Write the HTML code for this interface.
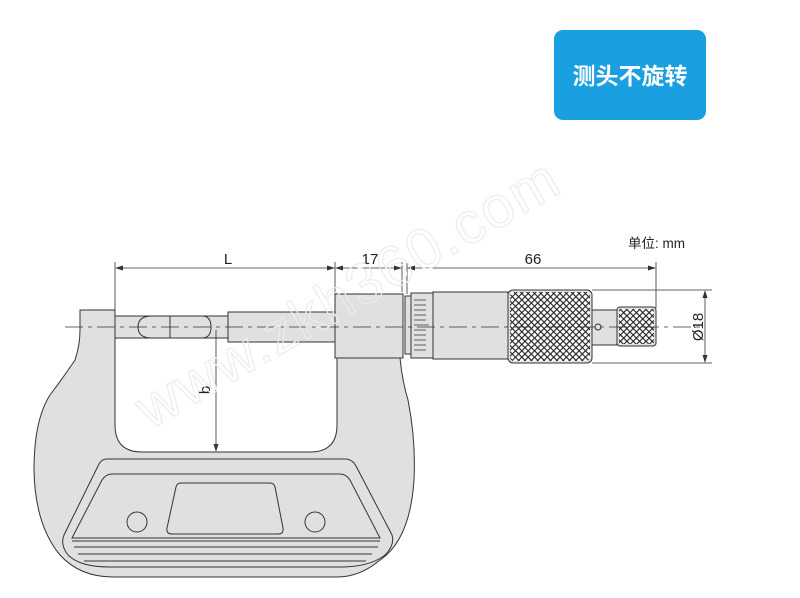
<!DOCTYPE html>
<html><head><meta charset="utf-8"><style>
html,body{margin:0;padding:0;background:#fff;}
svg{display:block;}
</style></head><body>
<svg width="800" height="598" viewBox="0 0 800 598" xmlns="http://www.w3.org/2000/svg" font-family="Liberation Sans, Arial, sans-serif">
<rect x="554" y="30" width="152" height="90" rx="9" fill="#1a9fe0"/>
<text x="630" y="84" fill="#fff" font-size="23" font-weight="bold" text-anchor="middle" font-family="Liberation Sans, Noto Sans CJK SC, sans-serif">测头不旋转</text>

<g stroke="#333" stroke-width="1" fill="#e0e0e0">
<path d="M80,310 L115,310 L115,425 Q115,452 142,452 L310,452 Q337,452 337,425 L337,358 L400,358 Q402,380 408,400 Q416,440 414,480 Q410,540 380,560 Q360,577 337,577 L113,577 Q80,577 60,555 Q35,525 34,470 Q34,420 50,395 Q65,375 75,360 Q80,345 80,330 Z"/>
<path d="M107,459 L345,459 Q352,459 356,466 L392,535 Q395,545 385,555 Q370,567 340,567 L110,567 Q80,567 68,555 Q60,545 64,535 L98,466 Q101,459 107,459 Z" fill="#e0e0e0"/>
<path d="M112,474 L340,474 Q346,474 350,480 L380,538 L72,538 L102,480 Q106,474 112,474 Z"/>
<path d="M181,483 L270,483 Q274,483 275,487 L283,528 Q284,534 278,534 L172,534 Q166,534 167,528 L176,487 Q177,483 181,483 Z"/>
<circle cx="137" cy="522" r="10"/>
<circle cx="315" cy="522" r="10"/>
<g fill="none"><path d="M72,541 L380,541 M74,547 L378,547 M78,554 L372,554 M84,561 L366,561"/></g>
<rect x="115" y="316" width="113" height="22"/>
<path d="M152,316 Q138,316 138,327 Q138,338 152,338 M170,316 L170,338 M202,316 Q211,316 211,327 Q211,338 202,338" fill="none"/>
<rect x="228" y="312" width="107" height="30"/>
<rect x="335" y="294" width="68" height="64"/>
<rect x="405" y="296" width="6" height="58"/>
<rect x="411" y="293" width="22" height="65"/>
<rect x="433" y="292" width="75" height="67"/>
<rect x="508" y="290" width="84" height="73" rx="5"/>
<rect x="592" y="310" width="25" height="35"/>
<rect x="617" y="307" width="39" height="39" rx="3"/>
<circle cx="598" cy="327" r="3"/>
</g>
<g stroke="#333" stroke-width="0.8">
<path d="M414,300h12M414,305h12M414,310h12M414,315h12M414,320h12M414,325h15M414,330h12M414,335h12M414,340h12M414,345h12M414,350h12"/>
</g>
<defs>
<pattern id="kn" width="4.5" height="4.5" patternUnits="userSpaceOnUse" patternTransform="rotate(45)">
<rect width="4.5" height="4.5" fill="#fff"/>
<path d="M0,0H4.5M0,0V4.5" stroke="#222" stroke-width="2.2"/>
</pattern>
</defs>
<rect x="510" y="292" width="80" height="69" rx="4" fill="url(#kn)"/>
<rect x="619" y="309" width="35" height="35" rx="2" fill="url(#kn)"/>

<line x1="65" y1="327" x2="700" y2="327" stroke="#333" stroke-width="0.8" stroke-dasharray="18,5,4,5"/>

<g stroke="#333" stroke-width="0.8" fill="none">
<path d="M115,262V312M335,262V294M402,262V292M407,262V294M656,262V308"/>
<path d="M117,268H331M337,268H400M409,268H654"/>
<path d="M592,290H712M592,363H712M705,292V361"/>
<path d="M216,330V448"/>
</g>
<g fill="#333">
<path d="M115,268l8,-2.5v5z M335,268l-8,-2.5v5z M335,268l8,-2.5v5z M402,268l-8,-2.5v5z M407,268l8,-2.5v5z M656,268l-8,-2.5v5z"/>
<path d="M705,290l-2.5,8h5z M705,363l-2.5,-8h5z M216,452l-2.5,-8h5z"/>
</g>
<g font-size="15" fill="#222">
<text x="228" y="264" text-anchor="middle">L</text>
<text x="370" y="264" text-anchor="middle">17</text>
<text x="533" y="264" text-anchor="middle">66</text>
<text x="628" y="248" font-size="13.5" font-family="Liberation Sans, Noto Sans CJK SC, sans-serif">单位: mm</text>
<text transform="translate(703,327) rotate(-90)" text-anchor="middle">Ø18</text>
<text transform="translate(210,390) rotate(-90)" text-anchor="middle">b</text>
</g>
<text transform="translate(150,430) rotate(-30)" font-size="58" fill="none" stroke="#ececec" stroke-width="1.2" letter-spacing="2">www.zkh360.com</text>
</svg>
</body></html>
